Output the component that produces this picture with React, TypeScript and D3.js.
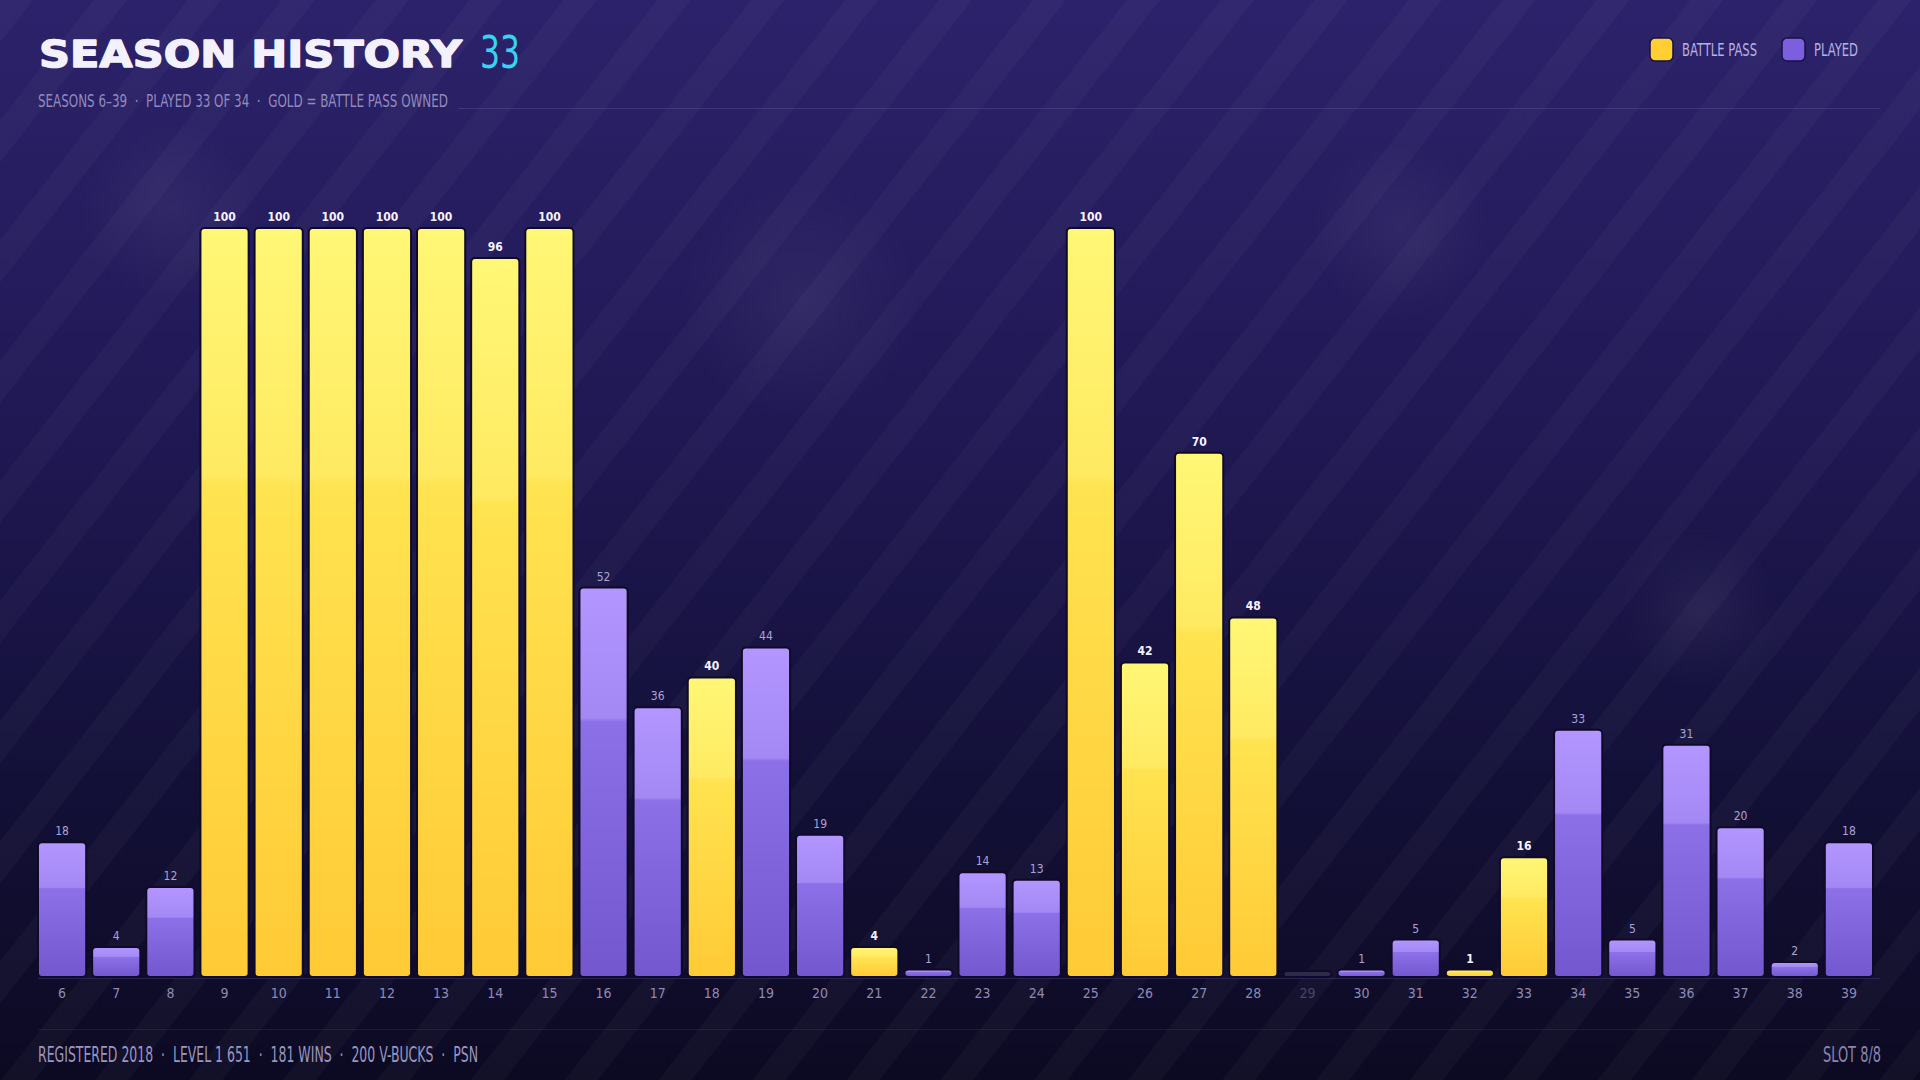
import { useEffect, useRef } from "react";
import * as d3 from "d3";

// season history values (battle pass progress %)
const seasons = [6, 7, 8, 9, 10, 11, 12, 13, 14, 15, 16, 17, 18, 19, 20, 21, 22, 23, 24, 25, 26, 27, 28, 29, 30, 31, 32, 33, 34, 35, 36, 37, 38, 39];
const progress = [18, 4, 12, 100, 100, 100, 100, 100, 96, 100, 52, 36, 40, 44, 19, 4, 1, 14, 13, 100, 42, 70, 48, 0, 1, 5, 1, 16, 33, 5, 31, 20, 2, 18];
const battlePassSeasons = [9, 10, 11, 12, 13, 14, 15, 18, 21, 25, 26, 27, 28, 32, 33];
const unplayedSeasons = [29];
const subtitleItems = ["SEASONS 6–39", "PLAYED 33 OF 34", "GOLD = BATTLE PASS OWNED"];
const footerItems = ["REGISTERED 2018", "LEVEL 1 651", "181 WINS", "200 V-BUCKS", "PSN"];
const legendItems = ["BATTLE PASS", "PLAYED"];

const W = 1920;
const H = 1080;
const narrow = "'Liberation Sans Narrow', 'DejaVu Sans Condensed', 'Roboto', sans-serif";

const DrawChart = (element: any) => {
  d3.select(element).select("svg").remove();

  const svg = d3
    .select(element)
    .append("svg")
    .attr("width", W)
    .attr("height", H)
    .attr("viewBox", `0 0 ${W} ${H}`)
    .style("display", "block");

  const defs = svg.append("defs");

  const bg = defs.append("linearGradient").attr("id", "bg").attr("x1", 0).attr("y1", 0).attr("x2", 0).attr("y2", 1);
  bg.append("stop").attr("offset", 0).attr("stop-color", "#2c226b");
  bg.append("stop").attr("offset", 0.4).attr("stop-color", "#1f1853");
  bg.append("stop").attr("offset", 0.72).attr("stop-color", "#131038");
  bg.append("stop").attr("offset", 1).attr("stop-color", "#0c0a22");

  const gold = defs.append("linearGradient").attr("id", "gold").attr("x1", 0).attr("y1", 0).attr("x2", 0).attr("y2", 1);
  gold.append("stop").attr("offset", 0).attr("stop-color", "#fff776");
  gold.append("stop").attr("offset", 0.33).attr("stop-color", "#ffea62");
  gold.append("stop").attr("offset", 0.345).attr("stop-color", "#ffe350");
  gold.append("stop").attr("offset", 1).attr("stop-color", "#ffca36");

  const purple = defs.append("linearGradient").attr("id", "purple").attr("x1", 0).attr("y1", 0).attr("x2", 0).attr("y2", 1);
  purple.append("stop").attr("offset", 0).attr("stop-color", "#b396ff");
  purple.append("stop").attr("offset", 0.335).attr("stop-color", "#a388f4");
  purple.append("stop").attr("offset", 0.345).attr("stop-color", "#8c70e7");
  purple.append("stop").attr("offset", 1).attr("stop-color", "#7257cf");

  const stripes = defs
    .append("pattern")
    .attr("id", "stripes")
    .attr("patternUnits", "userSpaceOnUse")
    .attr("width", 74)
    .attr("height", 74)
    .attr("patternTransform", "rotate(38)");
  stripes.append("rect").attr("x", 0).attr("y", 0).attr("width", 26).attr("height", 74).attr("fill", "#ffffff").attr("opacity", 0.028);

  const blob = defs.append("radialGradient").attr("id", "blob");
  blob.append("stop").attr("offset", 0).attr("stop-color", "#ffffff").attr("stop-opacity", 0.05);
  blob.append("stop").attr("offset", 1).attr("stop-color", "#ffffff").attr("stop-opacity", 0);

  // background
  svg.append("rect").attr("width", W).attr("height", H).attr("fill", "url(#bg)");
  svg.append("rect").attr("width", W).attr("height", H).attr("fill", "url(#stripes)");
  [
    [170, 210, 90],
    [800, 300, 120],
    [1400, 230, 90],
    [1700, 610, 80],
  ].forEach(([cx, cy, r]) => {
    svg.append("circle").attr("cx", cx).attr("cy", cy).attr("r", r).attr("fill", "url(#blob)");
  });

  // header
  svg
    .append("text")
    .attr("x", 39)
    .attr("y", 67)
    .attr("textLength", 423)
    .attr("lengthAdjust", "spacingAndGlyphs")
    .style("font-family", "'DejaVu Sans', sans-serif")
    .style("font-weight", 900)
    .style("font-size", "38px")
    .style("fill", "#f4f1ff")
    .style("stroke", "#f4f1ff")
    .style("stroke-width", 1.4)
    .style("stroke-linejoin", "round")
    .text("SEASON HISTORY");

  svg
    .append("text")
    .attr("x", 480)
    .attr("y", 68)
    .attr("textLength", 40)
    .attr("lengthAdjust", "spacingAndGlyphs")
    .style("font-family", narrow)
    .style("font-size", "44px")
    .style("fill", "#38d3ee")
    .text(String(seasons.length - unplayedSeasons.length));

  svg
    .append("text")
    .attr("x", 38)
    .attr("y", 107)
    .attr("textLength", 410)
    .attr("lengthAdjust", "spacingAndGlyphs")
    .style("font-family", narrow)
    .style("font-size", "18px")
    .style("fill", "#918bbb")
    .style("white-space", "pre")
    .text(subtitleItems.join("  ·  "));

  svg.append("line").attr("x1", 458).attr("x2", 1880).attr("y1", 108.5).attr("y2", 108.5).attr("stroke", "#5a4fa0").attr("stroke-opacity", 0.45);

  // legend
  const legend = svg.append("g");
  const legendX = [1650, 1782];
  const legendW = [75, 44];
  const legendFill = ["#ffcf33", "#7b5fe0"];
  legendItems.forEach((name, i) => {
    legend
      .append("rect")
      .attr("x", legendX[i])
      .attr("y", 38)
      .attr("width", 23)
      .attr("height", 23)
      .attr("rx", 5)
      .attr("fill", legendFill[i])
      .attr("stroke", "#1a1040")
      .attr("stroke-width", 1.5);
    legend
      .append("text")
      .attr("x", legendX[i] + 32)
      .attr("y", 56)
      .attr("textLength", legendW[i])
      .attr("lengthAdjust", "spacingAndGlyphs")
      .style("font-family", narrow)
      .style("font-size", "17px")
      .style("fill", "#b7b1e2")
      .text(name);
  });

  // chart
  const x = d3
    .scaleBand<number>()
    .domain(seasons)
    .range([38, 1873])
    .paddingInner(0.11)
    .paddingOuter(0);

  const y = d3.scaleLinear().domain([0, 100]).range([977, 228]);

  svg.append("line").attr("x1", 38).attr("x2", 1880).attr("y1", 978.5).attr("y2", 978.5).attr("stroke", "#2a2550").attr("stroke-width", 1);

  const rows = seasons.map((s, i) => ({
    season: s,
    value: progress[i],
    bp: battlePassSeasons.includes(s),
    unplayed: unplayedSeasons.includes(s),
  }));

  const bars = svg.append("g").selectAll("g").data(rows).enter().append("g");

  bars
    .append("rect")
    .attr("x", (d) => x(d.season) as number)
    .attr("width", x.bandwidth())
    .attr("y", (d) => (d.unplayed ? y(0) - 6 : y(d.value)))
    .attr("height", (d) => (d.unplayed ? 6 : y(0) - y(d.value)))
    .attr("rx", 4)
    .attr("fill", (d) => (d.unplayed ? "#2d2946" : d.bp ? "url(#gold)" : "url(#purple)"))
    .attr("stroke", "#0f0a28")
    .attr("stroke-width", 2);

  bars
    .filter((d) => !d.unplayed)
    .append("text")
    .attr("x", (d) => (x(d.season) as number) + x.bandwidth() / 2)
    .attr("y", (d) => y(d.value) - 7)
    .attr("text-anchor", "middle")
    .style("font-family", narrow)
    .style("font-size", "12px")
    .style("font-weight", (d) => (d.bp ? 700 : 400))
    .style("fill", (d) => (d.bp ? "#f6f3ff" : "#aaa3d6"))
    .text((d) => d.value);

  svg
    .append("g")
    .selectAll("text")
    .data(rows)
    .enter()
    .append("text")
    .attr("x", (d) => (x(d.season) as number) + x.bandwidth() / 2)
    .attr("y", 998)
    .attr("text-anchor", "middle")
    .style("font-family", narrow)
    .style("font-size", "14px")
    .style("fill", (d) => (d.unplayed ? "#4a4470" : "#8e89b6"))
    .text((d) => d.season);

  // footer
  svg.append("line").attr("x1", 38).attr("x2", 1880).attr("y1", 1029.5).attr("y2", 1029.5).attr("stroke", "#ffffff").attr("stroke-opacity", 0.07);

  svg
    .append("text")
    .attr("x", 38)
    .attr("y", 1062)
    .attr("textLength", 440)
    .attr("lengthAdjust", "spacingAndGlyphs")
    .style("font-family", narrow)
    .style("font-size", "21px")
    .style("fill", "#9b96c0")
    .style("white-space", "pre")
    .text(footerItems.join("  ·  "));

  svg
    .append("text")
    .attr("x", 1881)
    .attr("y", 1062)
    .attr("text-anchor", "end")
    .attr("textLength", 58)
    .attr("lengthAdjust", "spacingAndGlyphs")
    .style("font-family", narrow)
    .style("font-size", "21px")
    .style("fill", "#8a85b0")
    .text("SLOT 8/8");
};

export default function App() {
  const ref = useRef<HTMLDivElement>(null);

  useEffect(() => {
    document.body.style.margin = "0";
    document.body.style.overflow = "hidden";
    DrawChart(ref.current);
  }, []);

  return <div ref={ref} style={{ width: W, height: H }} />;
}
